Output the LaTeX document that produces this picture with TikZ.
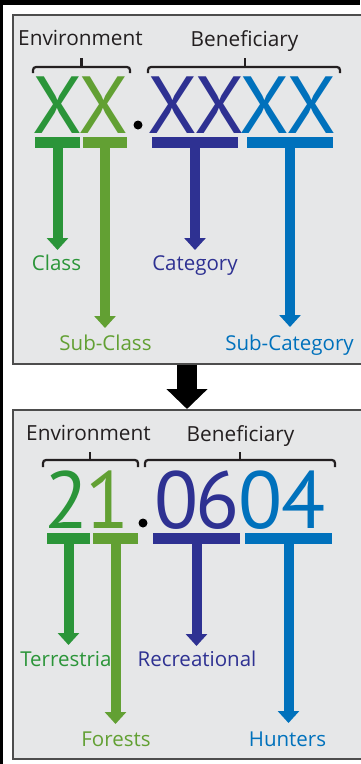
\documentclass[tikz,border=0pt]{standalone}
\usepackage{fontspec}
\setmainfont{Open Sans}
\newfontfamily\bigfont{PT Sans}
\usetikzlibrary{arrows.meta}
\definecolor{cgreen}{HTML}{2B9539}
\definecolor{clgreen}{HTML}{62A033}
\definecolor{cindigo}{HTML}{2E3192}
\definecolor{cblue}{HTML}{0071BC}
\definecolor{cpanel}{HTML}{E6E7E8}
\definecolor{cborder}{HTML}{4D4D4D}
\definecolor{ctext}{HTML}{231F20}
\begin{document}
\begin{tikzpicture}[x=1pt,y=-1pt,
  panel/.style={draw=cborder, line width=1.5pt, fill=cpanel, rectangle, inner sep=0pt, anchor=north west, minimum width=349pt, minimum height=349pt},
  head/.style={font=\fontsize{20.8}{21}\selectfont, text=ctext, anchor=base, inner sep=0pt},
  lab/.style={font=\fontsize{20.5}{21}\selectfont, anchor=base, inner sep=0pt},
  big/.style={font=\bigfont\fontsize{81}{81}\selectfont, inner sep=0pt},
  bar/.style={rectangle, inner sep=0pt, minimum height=11pt},
  shaft/.style={line width=10pt, -{Triangle[width=21pt,length=12pt]}},
  brace/.style={draw=ctext, line width=2.2pt, rounded corners=3pt}]
\useasboundingbox (0,0) rectangle (360,764);
\fill[white] (0,0) rectangle (360,764);
\fill[black] (0,0) rectangle (3,764);
\fill[black] (0,0) rectangle (360,5);
% panels
\node[panel] (ptop) at (12,14) {};
\node[panel] (pbot) at (12,409) {};
\draw[line width=20pt, -{Triangle[width=40pt,length=20pt]}] (ptop.south -| 187,0) -- (pbot.north -| 187,0);
% ---------- top panel ----------
\node[head] (env1) at (80.5,45) {Environment};
\node[head] (ben1) at (244.5,46) {Beneficiary};
\draw[brace] (33,73) -- (33,67) -- (130,67) -- (130,73);
\draw[brace] (81.5,67) -- (81.5,58);
\draw[brace] (148,73) -- (148,67) -- (340,67) -- (340,73);
\draw[brace] (245,67) -- (245,58);
\node[big, text=cgreen]  (x1) at (58,105) {X};
\node[big, text=clgreen] (x2) at (104,105) {X};
\node[big, text=cindigo] (x3) at (173,105) {X};
\node[big, text=cindigo] (x4) at (220,105) {X};
\node[big, text=cblue]   (x5) at (265,105) {X};
\node[big, text=cblue]   (x6) at (312,105) {X};
\fill[black] (138,125) circle (4.5);
\node[bar, fill=cgreen,  minimum width=45pt] (b1) at (57.5,142.5) {};
\node[bar, fill=clgreen, minimum width=44pt] (b2) at (105,142.5) {};
\node[bar, fill=cindigo, minimum width=86pt] (b3) at (195,142.5) {};
\node[bar, fill=cblue,   minimum width=86pt] (b4) at (290,142.5) {};
\node[lab, text=cgreen]  (l1) at (56.5,270) {Class};
\node[lab, text=cindigo] (l3) at (195,270) {Category};
\node[lab, text=clgreen] (l2) at (105.5,350) {Sub-Class};
\node[lab, text=cblue]   (l4) at (289.5,350) {Sub-Category};
\coordinate (t1) at (57.5,250);
\coordinate (t2) at (105,328);
\coordinate (t3) at (195,250);
\coordinate (t4) at (290,327);
\draw[shaft, cgreen]  (b1.center) -- (t1);
\draw[shaft, clgreen] (b2.center) -- (t2);
\draw[shaft, cindigo] (b3.center) -- (t3);
\draw[shaft, cblue]   (b4.center) -- (t4);
% ---------- bottom panel ----------
\node[head] (env2) at (88.5,440) {Environment};
\node[head] (ben2) at (240.5,441) {Beneficiary};
\draw[brace] (43,467) -- (43,460) -- (138,460) -- (138,467);
\draw[brace] (90,460) -- (90,452);
\draw[brace] (145,467) -- (145,460) -- (335,460) -- (335,467);
\draw[brace] (240,460) -- (240,452);
\node[big, text=cgreen]  (d1) at (67,500) {2};
\node[big, text=clgreen] (d2) at (108,500) {1};
\node[big, text=cindigo] (d3) at (177,500) {0};
\node[big, text=cindigo] (d4) at (218,500) {6};
\node[big, text=cblue]   (d5) at (261,500) {0};
\node[big, text=cblue]   (d6) at (304,500) {4};
\fill[black] (143,523) circle (4.5);
\node[bar, fill=cgreen,  minimum width=43pt] (c1) at (68.5,538) {};
\node[bar, fill=clgreen, minimum width=45pt] (c2) at (115.5,538) {};
\node[bar, fill=cindigo, minimum width=87pt] (c3) at (196.5,538) {};
\node[bar, fill=cblue,   minimum width=87pt] (c4) at (288.5,538) {};
\node[lab, text=cgreen]  (m1) at (68.5,666) {Terrestrial};
\node[lab, text=cindigo] (m3) at (197,666) {Recreational};
\node[lab, text=clgreen] (m2) at (116,746) {Forests};
\node[lab, text=cblue]   (m4) at (287.5,746) {Hunters};
\coordinate (s1) at (68.5,645);
\coordinate (s2) at (115.5,724);
\coordinate (s3) at (196.5,646);
\coordinate (s4) at (288.5,723);
\draw[shaft, cgreen]  (c1.center) -- (s1);
\draw[shaft, clgreen] (c2.center) -- (s2);
\draw[shaft, cindigo] (c3.center) -- (s3);
\draw[shaft, cblue]   (c4.center) -- (s4);
\end{tikzpicture}
\end{document}
